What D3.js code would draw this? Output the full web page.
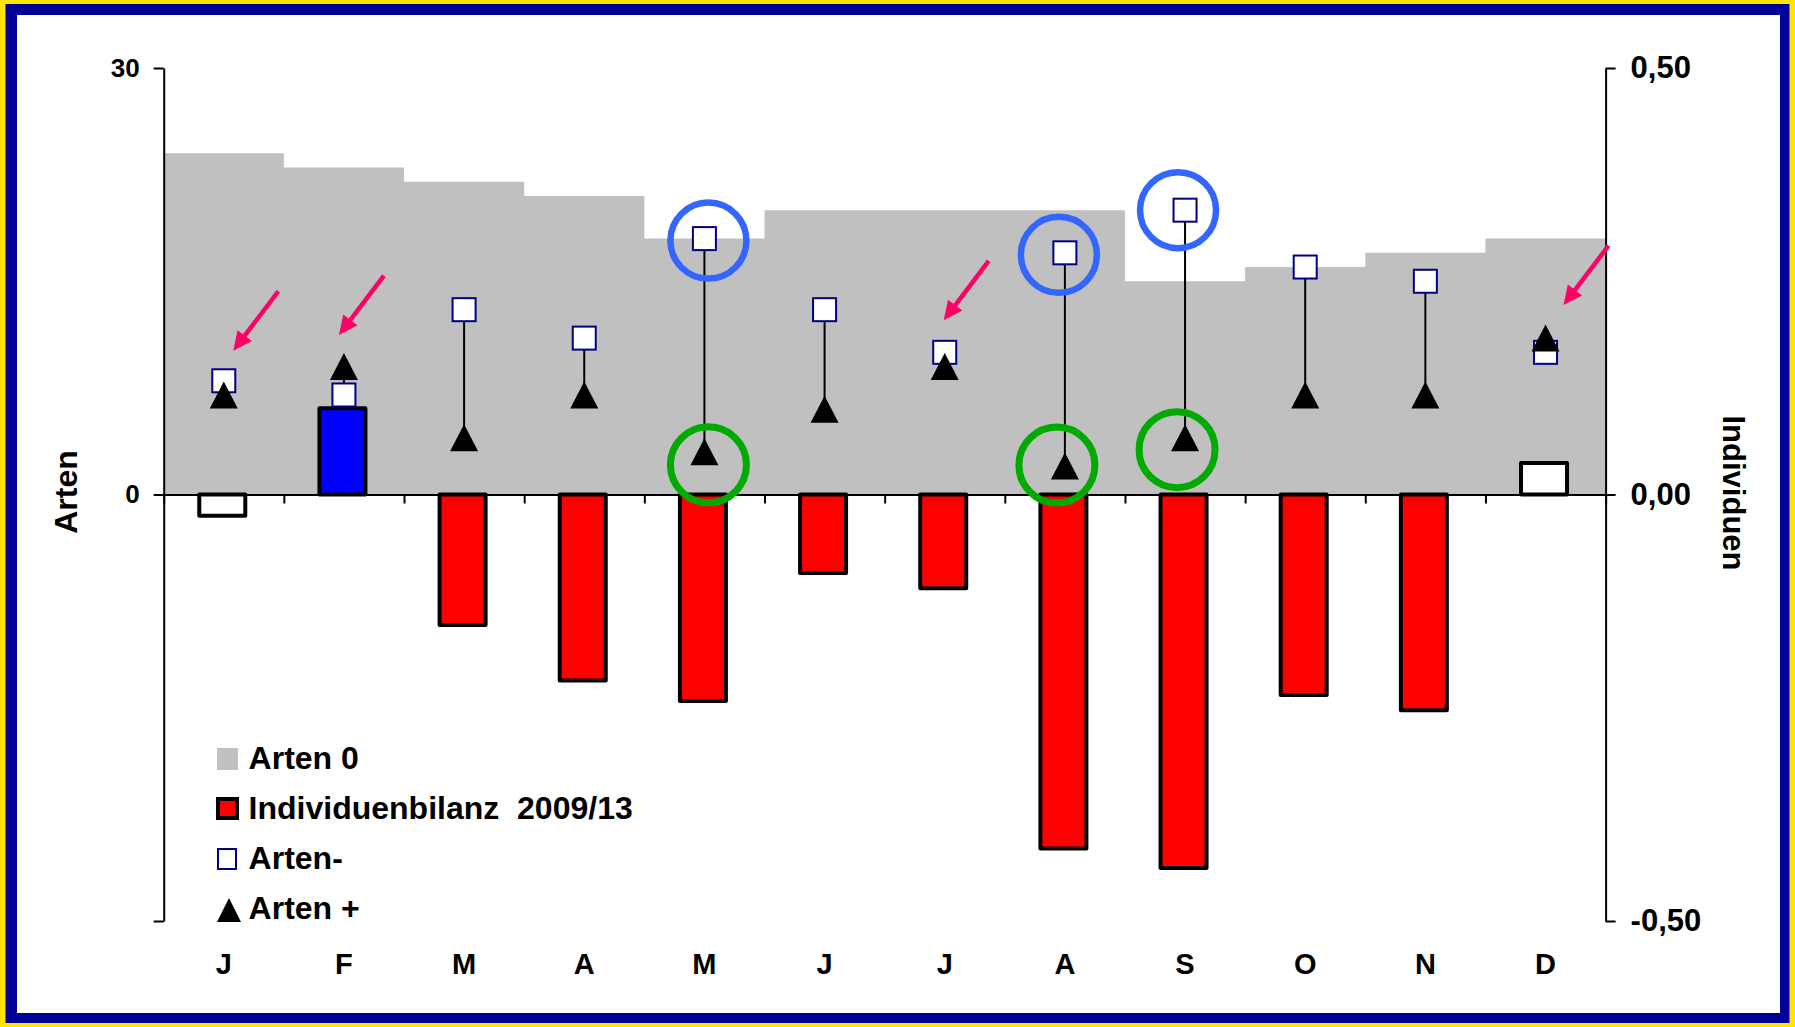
<!DOCTYPE html>
<html>
<head>
<meta charset="utf-8">
<script src="https://cdn.jsdelivr.net/npm/d3@7"></script>
<style>
  html, body { margin: 0; padding: 0; background: #FFE600; }
  svg { display: block; }
  text { font-family: "Liberation Sans", Arial, sans-serif; font-weight: bold; fill: #000; }
</style>
</head>
<body>
<svg id="chart" width="1795" height="1027"></svg>
<script>
// ---------------- data ----------------
const months = ["J","F","M","A","M","J","J","A","S","O","N","D"];
const artenNull  = [24, 23, 22, 21, 18, 20, 20, 20, 15, 16, 17, 18];   // Arten 0 (left axis)
const artenMinus = [8, 7, 13, 11, 18, 13, 10, 17, 20, 16, 15, 10];     // Arten-  (left axis)
const artenPlus  = [7, 9, 4, 7, 3, 6, 9, 2, 4, 7, 7, 11];              // Arten + (left axis)
const bilanz     = [-0.025, 0.101, -0.153, -0.218, -0.242, -0.092, -0.110, -0.415, -0.438, -0.235, -0.253, 0.037]; // Individuenbilanz (right axis)
const bilanzClass = ["neutral","up","down","down","down","down","down","down","down","down","down","neutral"];
const leftTicks = [30, 0, -30];
const leftTickLabels = ["30", "0", ""];
const rightTicks = [0.5, 0, -0.5];
const legendLabels = ["Arten 0", "Individuenbilanz  2009/13", "Arten-", "Arten +"];
const leftTitle = "Arten";
const rightTitle = "Individuen";
// annotations (month index + which series they mark)
const arrowMarks = [{i: 0, s: "minus"}, {i: 1, s: "plus"}, {i: 6, s: "minus"}, {i: 11, s: "plus"}];
const blueCircleMonths = [4, 7, 8];   // around Arten-
const greenCircleMonths = [4, 7, 8];  // around Arten +

// ---------------- layout ----------------
const W = 1795, H = 1027;
const svg = d3.select("#chart");

// frame
svg.append("rect").attr("x", 0).attr("y", 0).attr("width", W).attr("height", H).attr("fill", "#FFE600");
svg.append("rect").attr("x", 5.5).attr("y", 4).attr("width", 1784).attr("height", 1019).attr("fill", "#000099");
svg.append("rect").attr("x", 17).attr("y", 15).attr("width", 1763).attr("height", 998).attr("fill", "#FFFFFF");

const xL = 163.7, xR = 1605.6, yTop = 68, yBot = 921;
const x = d3.scaleBand().domain(d3.range(months.length)).range([xL, xR]).paddingInner(0).paddingOuter(0);
const xEdge = d3.scaleLinear().domain([0, months.length]).range([xL, xR]);
const yL = d3.scaleLinear().domain([-30, 30]).range([yBot, yTop]);
const yR = d3.scaleLinear().domain([-0.5, 0.5]).range([yBot, yTop]);
const cx = i => x(i) + x.bandwidth() / 2;

const g = svg.append("g");

// Arten 0 (grey step area) as one stepped path
const stepPts = artenNull.map((v, i) => [i, v]).concat([[months.length, artenNull[artenNull.length - 1]]]);
const area = d3.area()
  .x(d => xEdge(d[0]))
  .y0(yL(0))
  .y1(d => yL(d[1]))
  .curve(d3.curveStepAfter);
g.append("path").datum(stepPts).attr("d", area).attr("fill", "#C0C0C0");

// axes
const axisStyle = sel => {
  sel.select(".domain").attr("stroke", "#000").attr("stroke-width", 2);
  sel.selectAll(".tick line").attr("stroke", "#000").attr("stroke-width", 2);
};

// left axis
const leftAxis = g.append("g").attr("transform", `translate(${xL},0)`)
  .call(d3.axisLeft(yL).tickValues(leftTicks).tickSize(10).tickSizeOuter(0).tickPadding(14)
    .tickFormat((d, i) => leftTickLabels[i]));
axisStyle(leftAxis);
leftAxis.selectAll("text").attr("font-size", 26).attr("font-family", null).attr("fill", "#000");

// right axis
const rightAxis = g.append("g").attr("transform", `translate(${xR},0)`)
  .call(d3.axisRight(yR).tickValues(rightTicks).tickSize(10).tickSizeOuter(0).tickPadding(15)
    .tickFormat(d => d.toFixed(2).replace(".", ",")));
axisStyle(rightAxis);
rightAxis.selectAll("text").attr("font-size", 31).attr("font-family", null).attr("fill", "#000");

// x axis at zero with boundary ticks pointing down
const xAxisG = g.append("g").attr("transform", `translate(0,${yL(0)})`)
  .call(d3.axisBottom(xEdge).tickValues(d3.range(months.length + 1)).tickSize(9).tickSizeOuter(0).tickFormat(""));
axisStyle(xAxisG);

// month labels
const monthAxis = g.append("g").attr("transform", `translate(0,${yBot})`)
  .call(d3.axisBottom(x).tickSize(0).tickFormat(i => months[i]));
monthAxis.select(".domain").remove();
monthAxis.selectAll("text").attr("font-size", 29).attr("font-family", null).attr("fill", "#000")
  .attr("y", 53).attr("dy", 0);

// Individuenbilanz bars (right axis)
const barFill = {neutral: "#FFFFFF", up: "#0000FF", down: "#FF0000"};
const barW = 46;
g.append("g").selectAll("rect").data(bilanz).join("rect")
  .attr("x", (d, i) => cx(i) - barW / 2 - 1.5)
  .attr("width", barW)
  .attr("y", d => Math.min(yR(d), yR(0)))
  .attr("height", d => Math.abs(yR(d) - yR(0)))
  .attr("fill", (d, i) => barFill[bilanzClass[i]])
  .attr("stroke", "#000").attr("stroke-width", 4).attr("stroke-linejoin", "round");

// high-low lines
g.append("g").selectAll("line").data(artenMinus).join("line")
  .attr("x1", (d, i) => cx(i)).attr("x2", (d, i) => cx(i))
  .attr("y1", d => yL(d)).attr("y2", (d, i) => yL(artenPlus[i]))
  .attr("stroke", "#000").attr("stroke-width", 2);

// Arten- squares
const sq = 23;
g.append("g").selectAll("rect").data(artenMinus).join("rect")
  .attr("x", (d, i) => cx(i) - sq / 2)
  .attr("y", d => yL(d) - sq / 2)
  .attr("width", sq).attr("height", sq)
  .attr("fill", "#FFFFFF").attr("stroke", "#000080").attr("stroke-width", 2);

// Arten + triangles
const triW = 28, triH = 27;
const triPath = (px, py, w, h) => `M${px},${py - h / 2}L${px + w / 2},${py + h / 2}L${px - w / 2},${py + h / 2}Z`;
g.append("g").selectAll("path").data(artenPlus).join("path")
  .attr("d", (d, i) => triPath(cx(i), yL(d), triW, triH))
  .attr("fill", "#000");

// ---------------- annotations ----------------
const ann = svg.append("g");
const circleR = 38;
// blue circles around Arten-
const blueOff = {4: [4, 2], 7: [-6, 2], 8: [-7, 0]};
ann.selectAll("circle.blue").data(blueCircleMonths).join("circle")
  .attr("class", "blue")
  .attr("cx", i => cx(i) + blueOff[i][0])
  .attr("cy", i => yL(artenMinus[i]) + blueOff[i][1])
  .attr("r", circleR).attr("fill", "none").attr("stroke", "#3366FF").attr("stroke-width", 6.5);
// green circles around Arten +
const greenOff = {4: [4, 13], 7: [-8, -1], 8: [-8, 12]};
ann.selectAll("circle.green").data(greenCircleMonths).join("circle")
  .attr("class", "green")
  .attr("cx", i => cx(i) + greenOff[i][0])
  .attr("cy", i => yL(artenPlus[i]) + greenOff[i][1])
  .attr("r", circleR).attr("fill", "none").attr("stroke", "#00AA00").attr("stroke-width", 7);

// pink arrows
const tipOff = [[9.5, -30], [-5, -31.5], [-1, -32], [18, -33]];
const arrowVec = [45, -59.5];
arrowMarks.forEach((m, k) => {
  const val = m.s === "minus" ? artenMinus[m.i] : artenPlus[m.i];
  const tx = cx(m.i) + tipOff[k][0], ty = yL(val) + tipOff[k][1];
  const len = Math.hypot(arrowVec[0], arrowVec[1]);
  const ux = arrowVec[0] / len, uy = arrowVec[1] / len;   // from tip toward tail
  const px = -uy, py = ux;                                  // perpendicular
  const headL = 19, headW = 9;
  const bx = tx + ux * headL, by = ty + uy * headL;
  ann.append("line")
    .attr("x1", tx + arrowVec[0]).attr("y1", ty + arrowVec[1])
    .attr("x2", bx - ux * 2).attr("y2", by - uy * 2)
    .attr("stroke", "#FF0066").attr("stroke-width", 4.5);
  ann.append("path")
    .attr("d", `M${tx},${ty}L${bx + px * headW},${by + py * headW}L${bx - px * headW},${by - py * headW}Z`)
    .attr("fill", "#FF0066");
});

// ---------------- titles ----------------
svg.append("text").attr("transform", "translate(76.5,492) rotate(-90)")
  .attr("text-anchor", "middle").attr("font-size", 32).text(leftTitle);
svg.append("text").attr("transform", "translate(1723,493) rotate(90)")
  .attr("text-anchor", "middle").attr("font-size", 31).text(rightTitle);

// ---------------- legend ----------------
const leg = svg.append("g").attr("transform", "translate(217,748)");
const rowH = 50;
const rows = leg.selectAll("g").data(legendLabels).join("g")
  .attr("transform", (d, i) => `translate(0,${i * rowH})`);
rows.append("text").attr("x", 31.6).attr("y", 21).attr("font-size", 32)
  .style("white-space", "pre").text(d => d);
// swatches
leg.append("rect").attr("x", 0).attr("y", 0).attr("width", 21).attr("height", 22).attr("fill", "#C0C0C0");
leg.append("rect").attr("x", 1).attr("y", rowH + 1).attr("width", 19).attr("height", 19)
  .attr("fill", "#FF0000").attr("stroke", "#000").attr("stroke-width", 4);
leg.append("rect").attr("x", 1).attr("y", 2 * rowH + 1).attr("width", 18).attr("height", 20)
  .attr("fill", "#FFFFFF").attr("stroke", "#000080").attr("stroke-width", 2);
leg.append("path").attr("d", triPath(12, 3 * rowH + 12, 24, 24)).attr("fill", "#000");
</script>
</body>
</html>
